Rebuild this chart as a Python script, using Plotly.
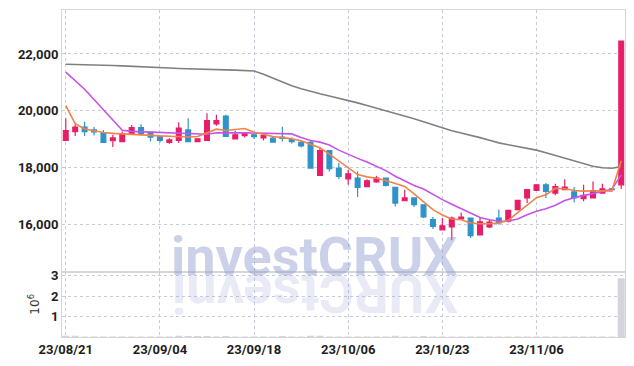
import plotly.graph_objects as go
from plotly.subplots import make_subplots

dates = ["23/08/21","23/08/22","23/08/23","23/08/24","23/08/25","23/08/28","23/08/29","23/08/30","23/08/31",
         "23/09/01","23/09/04","23/09/05","23/09/06","23/09/07","23/09/08","23/09/11","23/09/12","23/09/13",
         "23/09/14","23/09/15","23/09/18","23/09/19","23/09/20","23/09/21","23/09/22","23/09/25","23/09/26",
         "23/09/27","23/10/04","23/10/05","23/10/06","23/10/10","23/10/11","23/10/12","23/10/13","23/10/16",
         "23/10/17","23/10/18","23/10/19","23/10/20","23/10/23","23/10/24","23/10/25","23/10/26","23/10/27",
         "23/10/30","23/10/31","23/11/01","23/11/02","23/11/03","23/11/06","23/11/07","23/11/08","23/11/09",
         "23/11/10","23/11/13","23/11/14","23/11/15","23/11/16","23/11/17"]

opens = [18960,19270,19430,19330,19240,18950,18920,19180,19410,19250,19100,18890,18960,19330,18920,
         18960,19540,19820,19010,19130,19160,19050,19040,19080,18990,18890,18890,17730,18600,17990,
         17610,17640,17340,17500,17640,17310,16840,16940,16700,16180,15820,15920,16200,16230,15640,
         15920,16230,16120,16530,16940,17200,17400,17110,17230,17150,16910,16940,17110,17260,17400]
highs = [19740,19530,19620,19430,19330,19160,19270,19500,19530,19270,19100,19040,19600,19740,19040,
         19920,19860,19860,19300,19250,19250,19150,19100,19440,19060,18950,18950,18700,18600,18170,
         17930,17870,17600,17720,17650,17320,17230,16950,16720,16270,16230,16290,16430,16250,16230,
         16200,16530,16510,16860,17240,17410,17460,17440,17600,17320,17400,17520,17440,17290,22450]
lows = [18950,19120,19120,19130,18880,18730,18920,19170,19130,18920,18890,18840,18870,18920,18920,
        18960,19480,19100,18990,19060,19010,18960,18900,18920,18850,18710,17990,17730,17870,17600,
        17400,16970,17320,17470,17340,16640,16820,16620,16230,15850,15820,15450,16170,15530,15620,
        15880,16000,16080,16500,16760,17200,16940,17030,17230,16780,16820,16940,17090,17180,17250]
closes = [19310,19430,19270,19260,18890,19050,19190,19410,19200,19080,18960,18980,19390,18920,19020,
          19660,19660,19100,19160,19220,19090,19130,18900,19030,18920,18770,17990,18600,17970,17700,
          17790,17310,17540,17640,17380,16760,16940,16700,16270,15940,15960,16230,16270,15610,16100,
          16090,16060,16500,16850,17230,17400,17170,17340,17320,16940,17030,17200,17260,17230,22450]
volumes = [60000,55000,25000,22000,25000,20000,22000,25000,20000,22000,25000,20000,55000,50000,45000,
           50000,25000,50000,25000,22000,25000,20000,22000,50000,30000,30000,60000,55000,30000,25000,
           28000,30000,25000,22000,25000,55000,30000,28000,50000,25000,28000,30000,25000,30000,28000,
           25000,22000,28000,30000,25000,22000,28000,25000,30000,22000,25000,28000,22000,25000,2870000]
ma5 = [20180,19550,19360,19290,19240,19210,19190,19160,19150,19130,19120,19110,19100,19080,19100,
       19240,19357,19310,19340,19380,19250,19170,19100,19060,19020,18950,18830,18700,18480,18230,
       17990,17760,17680,17630,17550,17460,17344,17080,16800,16526,16340,16200,16175,16060,16030,
       16030,16060,16150,16420,16680,16950,17050,17280,17260,17200,17180,17190,17190,17180,18250]
ma20 = [21360,21060,20760,20400,20040,19680,19320,19280,19265,19250,19240,19225,19210,19200,19180,
        19180,19230,19235,19230,19225,19220,19215,19210,19205,19190,19060,18960,18900,18800,18620,
        18470,18330,18200,18060,17900,17700,17530,17380,17250,17060,16880,16720,16560,16420,16250,
        16170,16120,16130,16200,16350,16470,16560,16680,16850,16950,17020,17100,17180,17240,17750]
ma_long = [21640,21635,21630,21620,21610,21595,21580,21570,21555,21540,21520,21505,21490,21475,21460,
           21450,21445,21440,21430,21420,21400,21290,21150,21000,20880,20775,20677,20600,20525,20450,
           20370,20280,20190,20100,20005,19910,19820,19720,19620,19510,19400,19300,19225,19150,19060,
           18970,18875,18810,18750,18690,18620,18525,18430,18330,18235,18140,18050,18000,17985,18040]

price_ticks = [16000, 18000, 20000, 22000]
vol_ticks = [1, 2, 3]
date_ticks = [dates[i] for i in range(0, 60, 10)]

RED = "#e81d68"
BLUE = "#2f93c9"
GRID = "#c6cade"
LINE = "#d6d6d6"
TICKFONT = dict(family="Roboto, sans-serif", size=13, color="#1e1e1e", weight="bold")

fig = make_subplots(rows=2, cols=1, shared_xaxes=True, vertical_spacing=0, row_heights=[0.8, 0.2])

fig.add_trace(go.Candlestick(
    x=dates, open=opens, high=highs, low=lows, close=closes,
    increasing=dict(line=dict(color=RED, width=1.2), fillcolor=RED),
    decreasing=dict(line=dict(color=BLUE, width=1.2), fillcolor=BLUE),
    whiskerwidth=0, showlegend=False, hoverinfo="skip"), row=1, col=1)

fig.add_trace(go.Scatter(x=dates, y=ma_long, mode="lines", line=dict(color="#808080", width=1.6),
                         showlegend=False, hoverinfo="skip"), row=1, col=1)
fig.add_trace(go.Scatter(x=dates, y=ma20, mode="lines", line=dict(color="#c653ea", width=1.6),
                         showlegend=False, hoverinfo="skip"), row=1, col=1)
fig.add_trace(go.Scatter(x=dates, y=ma5, mode="lines", line=dict(color="#f0834a", width=1.6),
                         showlegend=False, hoverinfo="skip"), row=1, col=1)

fig.add_trace(go.Bar(x=dates, y=[v / 1e6 for v in volumes], marker=dict(color="#d4d4dc", line=dict(width=0)),
                     width=0.75, showlegend=False, hoverinfo="skip"), row=2, col=1)

xr = [-0.4, 59.4]
fig.update_xaxes(type="category", range=xr, showline=True, mirror=True, linecolor=LINE, linewidth=1,
                 showgrid=True, gridcolor=GRID, griddash="dot", gridwidth=1, automargin=False,
                 tickmode="array", tickvals=date_ticks, ticks="", rangeslider=dict(visible=False))
fig.update_xaxes(showticklabels=False, row=1, col=1)
fig.update_xaxes(showticklabels=True, ticktext=date_ticks, tickfont=TICKFONT, row=2, col=1)

fig.update_yaxes(range=[14350, 23545], tickmode="array", tickvals=price_ticks, automargin=False,
                 ticktext=[f"{v:,}" for v in price_ticks], tickfont=TICKFONT,
                 showline=True, mirror=True, linecolor=LINE, linewidth=1,
                 showgrid=True, gridcolor=GRID, griddash="dot", zeroline=False, ticks="", row=1, col=1)
fig.update_yaxes(range=[0, 3.19], tickmode="array", tickvals=vol_ticks, ticktext=[str(v) for v in vol_ticks],
                 tickfont=TICKFONT, showline=True, mirror=True, linecolor=LINE, linewidth=1, automargin=False,
                 showgrid=True, gridcolor=GRID, griddash="dot", zeroline=False, ticks="",
                 title=dict(text="10<sup>6</sup>", font=dict(family="DejaVu Sans", size=12, color="#333333"),
                            standoff=8), row=2, col=1)

fig.add_annotation(text="<b>investCRUX</b>", xref="paper", yref="paper", x=0.449, y=0.245,
                   xanchor="center", yanchor="middle", showarrow=False,
                   font=dict(family="Roboto", size=54, color="rgba(140,152,205,0.45)"))
fig.add_annotation(text="<b>XURCtsevni</b>", xref="paper", yref="paper", x=0.449, y=0.135,
                   xanchor="center", yanchor="middle", showarrow=False, textangle=180,
                   font=dict(family="Roboto", size=54, color="rgba(165,175,215,0.26)"))

fig.update_layout(width=634, height=366, margin=dict(l=62, r=9, t=10, b=29),
                  paper_bgcolor="white", plot_bgcolor="white", boxgap=0.27,
                  showlegend=False, hovermode=False)

fig.write_html("out.html", config={"displayModeBar": False, "staticPlot": True},
               post_script="document.body.style.margin='0px';document.body.style.overflow='hidden';")
